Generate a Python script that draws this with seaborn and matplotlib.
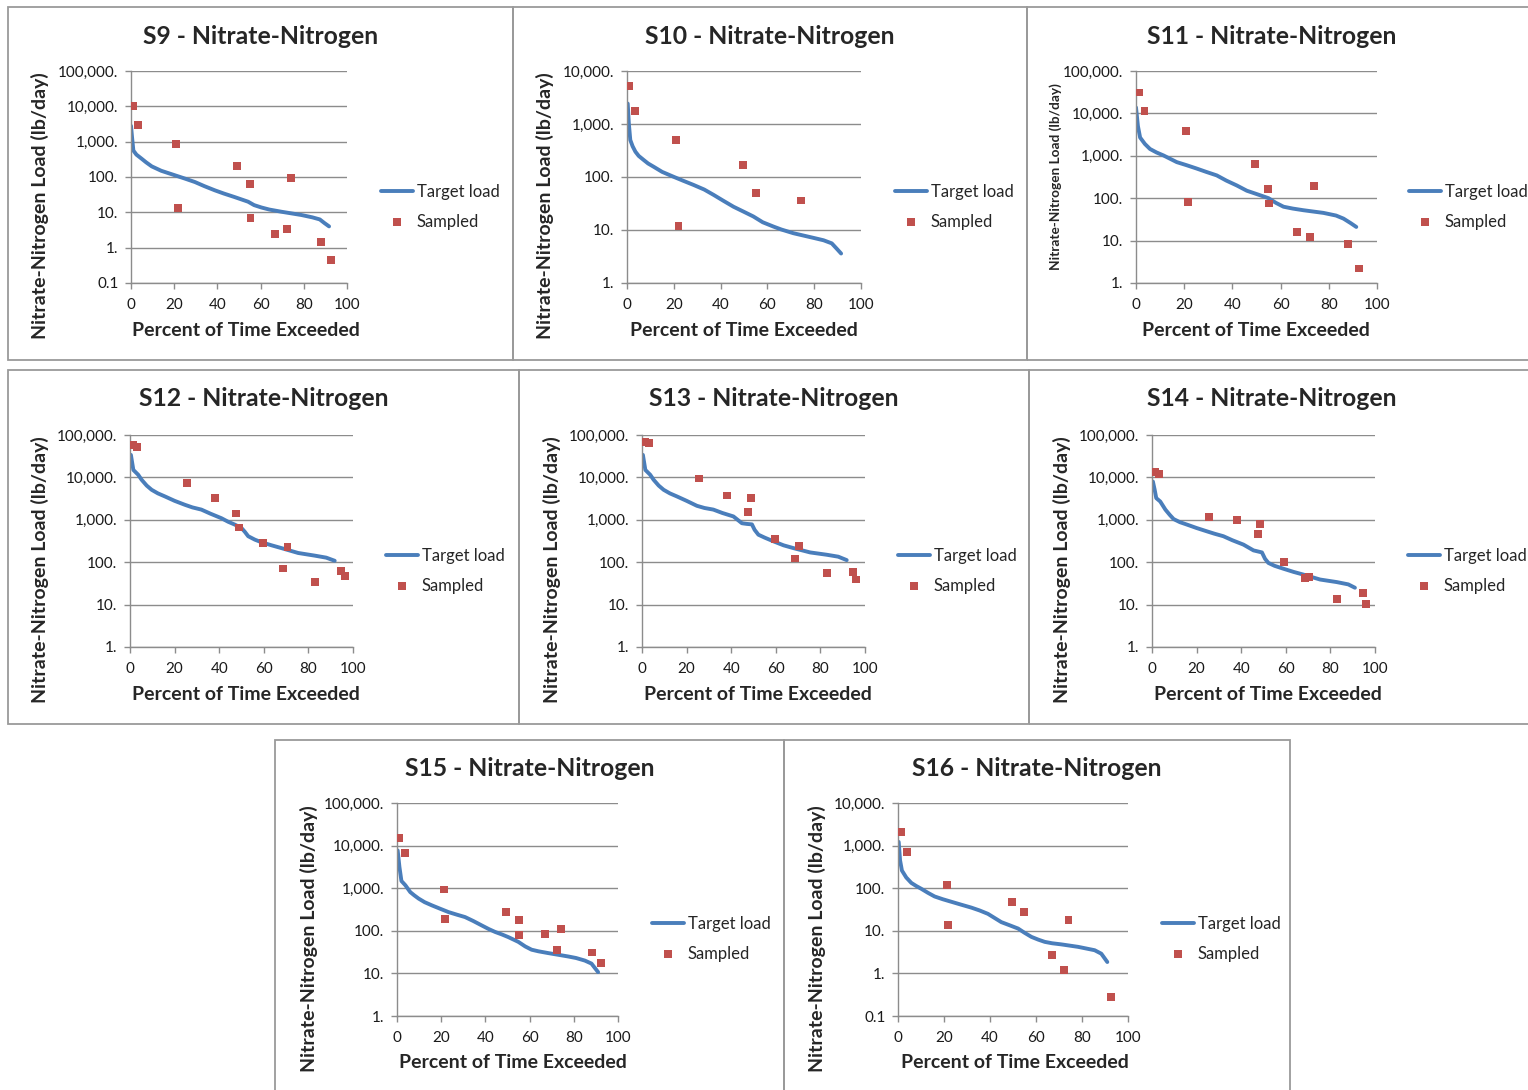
# Load duration curves - Nitrate-Nitrogen, sites S9 to S16
import matplotlib
matplotlib.use("Agg")
import matplotlib.pyplot as plt
import seaborn as sns
from matplotlib.ticker import FixedLocator, FuncFormatter, NullLocator
from matplotlib.patches import Rectangle

sns.set_style("white")
plt.rcParams['font.family'] = ['Lato', 'DejaVu Sans']

BLUE = "#4A7EBB"
RED = "#C0504D"
GRID = "#8C8C8C"

# ---- data ----
sites = ["S9", "S10", "S11", "S12", "S13", "S14", "S15", "S16"]

s9_target_x = [0, 0.5, 1.1, 2.5, 4.9, 7, 9.6, 14, 20.3, 25, 29.6, 34, 38.8, 43, 48, 54.2, 57, 60.4, 64, 69.6, 78.9, 84, 87.4, 89.5, 91.7]
s9_target_y = [2800, 1300, 560, 430, 330, 260, 200, 150, 112, 90, 72, 55, 42, 34, 27, 20, 16, 13.7, 12, 10.4, 8.4, 7.2, 6.3, 5.0, 4.0]
s9_sampled_x = [1.1, 3.4, 21.0, 21.6, 49.2, 54.9, 55.3, 66.7, 72.3, 74.1, 88.0, 92.4]
s9_sampled_y = [10400, 3030, 870, 13, 200, 65, 7.1, 2.4, 3.3, 96, 1.45, 0.45]

s10_target_x = [0.3, 0.8, 1.4, 2.4, 3.6, 5, 7.1, 9, 11.4, 15, 19.9, 24, 28.4, 33, 37, 41, 45.5, 50, 54, 58, 62.6, 66, 71.1, 79.7, 84, 87.5, 89.5, 91.5]
s10_target_y = [2430, 1000, 500, 380, 300, 250, 210, 180, 156, 125, 101, 85, 71, 58, 46, 36, 27.5, 22, 18, 14, 11.6, 10.2, 8.7, 7.1, 6.4, 5.6, 4.5, 3.6]
s10_sampled_x = [1.0, 3.6, 20.9, 22.0, 49.4, 55.0, 74.4]
s10_sampled_y = [5300, 1770, 497, 12, 166, 49, 36]

s11_target_x = [0, 0.8, 1.7, 3.7, 5.8, 8.5, 11.4, 16.9, 21, 25.2, 29, 33.5, 37.5, 41.8, 46, 50.1, 55.0, 58, 61.2, 65, 69.5, 77.8, 83, 86.1, 89, 91.4]
s11_target_y = [13800, 5000, 2700, 1900, 1450, 1200, 1020, 710, 600, 500, 420, 345, 260, 200, 150, 125, 100, 78, 63, 57, 52, 45, 39, 33, 26, 21]
s11_sampled_x = [1.1, 3.5, 20.6, 21.7, 49.2, 54.8, 55.1, 66.8, 72.3, 74.0, 88.0, 92.5]
s11_sampled_y = [31000, 11300, 3770, 82, 640, 168, 75, 16, 12.2, 190, 8.5, 2.2]

s12_target_x = [0.4, 1.5, 3.7, 5.2, 7.5, 9.7, 12.5, 15.7, 20, 24.6, 28, 32, 36, 41, 44, 47, 50, 51.5, 53, 56, 59, 63.5, 67.9, 75.4, 82.8, 88, 91.8]
s12_target_y = [34000, 15000, 11500, 8800, 6400, 5100, 4200, 3550, 2800, 2260, 1960, 1740, 1400, 1090, 900, 770, 640, 520, 410, 340, 295, 250, 215, 165, 143, 128, 108]
s12_sampled_x = [1.5, 3.1, 25.5, 38.1, 47.5, 48.7, 59.7, 68.7, 70.6, 82.8, 94.8, 96.3]
s12_sampled_y = [58000, 53000, 7300, 3200, 1410, 660, 290, 71, 224, 34, 63, 48]

s13_target_x = [0.4, 1.5, 3.7, 5.2, 7.5, 9.7, 12.5, 15.7, 20, 24.6, 28, 32, 36, 41, 44.8, 47, 49.3, 50.5, 52.2, 55, 59, 63.5, 67.9, 75.4, 82.8, 88, 91.8]
s13_target_y = [34000, 15000, 11500, 8800, 6400, 5100, 4200, 3550, 2800, 2140, 1900, 1740, 1450, 1200, 830, 800, 780, 580, 445, 380, 310, 250, 215, 170, 150, 135, 112]
s13_sampled_x = [1.2, 3.0, 25.5, 38.1, 47.5, 48.7, 59.7, 68.7, 70.3, 82.8, 94.5, 96.0]
s13_sampled_y = [67000, 65000, 9400, 3750, 1520, 3300, 360, 122, 237, 56, 58, 39]

s14_target_x = [0.4, 1.2, 1.9, 3.7, 6, 8, 9.7, 12.5, 15.7, 20, 24.6, 28, 32, 36, 41, 45.5, 49.3, 50.7, 52.2, 55, 59, 63.5, 67.9, 75.4, 82.8, 88, 91]
s14_target_y = [8000, 5100, 3250, 2700, 1740, 1300, 1040, 880, 770, 640, 535, 470, 410, 330, 260, 190, 170, 120, 96, 82, 70, 59, 51, 39, 34, 30, 25]
s14_sampled_x = [1.2, 3.0, 25.5, 38.1, 47.5, 48.4, 59.3, 68.7, 70.3, 82.8, 94.5, 96.0]
s14_sampled_y = [13700, 12100, 1140, 970, 460, 790, 100, 43, 45, 13.7, 19, 10.5]

s15_target_x = [0.3, 1.1, 2.0, 3.8, 6, 7.8, 9.8, 12.5, 15.8, 19.5, 23.3, 27, 30.8, 34.5, 38.3, 41.5, 44.4, 47.5, 50.4, 54.9, 58, 60.9, 64, 68.4, 77.4, 81, 85, 88, 91]
s15_target_y = [7700, 3150, 1480, 1170, 810, 680, 570, 470, 395, 330, 275, 240, 210, 170, 134, 110, 94, 82, 71, 55, 43, 36, 33, 30, 25, 23, 20, 17, 10.7]
s15_sampled_x = [1.1, 3.8, 21.2, 21.8, 49.3, 55.2, 55.2, 66.9, 72.5, 74.1, 88.3, 92.5]
s15_sampled_y = [15000, 6700, 930, 193, 270, 180, 78, 85, 36, 112, 31, 17.5]

s16_target_x = [0.3, 0.9, 1.7, 3.6, 5.8, 8, 10.1, 13, 15.9, 19.5, 23.2, 27.5, 31.9, 35.5, 39.1, 42, 44.9, 48.5, 52.2, 55, 58, 61, 63.8, 67, 71, 78.3, 85.5, 88.4, 91]
s16_target_y = [1220, 450, 260, 178, 133, 112, 97, 78, 64, 55, 48, 41, 35, 30, 25, 20, 16, 13.5, 11.3, 9, 7.2, 6.2, 5.5, 5.1, 4.8, 4.2, 3.5, 2.9, 1.85]
s16_sampled_x = [1.2, 3.8, 21.2, 21.7, 49.4, 54.9, 66.8, 72.2, 74.1, 92.6]
s16_sampled_y = [2090, 695, 121, 13.7, 47, 27.5, 2.75, 1.2, 17.9, 0.28]

y_ranges = [(0.1, 1e5), (1, 1e4), (1, 1e5), (1, 1e5), (1, 1e5), (1, 1e5), (1, 1e5), (0.1, 1e4)]

targets = [(s9_target_x, s9_target_y), (s10_target_x, s10_target_y), (s11_target_x, s11_target_y),
           (s12_target_x, s12_target_y), (s13_target_x, s13_target_y), (s14_target_x, s14_target_y),
           (s15_target_x, s15_target_y), (s16_target_x, s16_target_y)]
samples = [(s9_sampled_x, s9_sampled_y), (s10_sampled_x, s10_sampled_y), (s11_sampled_x, s11_sampled_y),
           (s12_sampled_x, s12_sampled_y), (s13_sampled_x, s13_sampled_y), (s14_sampled_x, s14_sampled_y),
           (s15_sampled_x, s15_sampled_y), (s16_sampled_x, s16_sampled_y)]

# ---- layout in pixels (figure is 1528 x 1090) ----
W, H = 1528, 1090
# panel boxes: left, top, right, bottom
boxes = [(8, 7, 513, 360), (513, 7, 1027, 360), (1027, 7, 1530, 360),
         (8, 370, 519, 724), (519, 370, 1029, 724), (1029, 370, 1530, 724),
         (275, 740, 784, 1092), (784, 740, 1290, 1092)]
# plot areas: left, top, right, bottom
plot_areas = [(131, 71, 347, 283), (627, 71, 861, 283), (1136, 71, 1377, 283),
              (130, 435, 353, 647), (642, 435, 865, 647), (1152, 435, 1375, 647),
              (397, 803, 618, 1016), (898, 803, 1128, 1016)]
xlabel_x = [246, 744, 1256, 246, 758, 1268, 513, 1015]
ylabel_x = [40, 545, 1056, 40, 552, 1062, 309, 817]
legend_x = [381, 895, 1409, 386, 898, 1408, 652, 1162]


def fmt(v, pos):
    if v < 1:
        return "0.1"
    return f"{int(round(v)):,}."


fig = plt.figure(figsize=(W / 100, H / 100), dpi=100)

for i, site in enumerate(sites):
    bl, bt, br, bb = boxes[i]
    fig.patches.append(Rectangle((bl / W, 1 - bb / H), (br - bl) / W, (bb - bt) / H,
                                 transform=fig.transFigure, fill=False,
                                 edgecolor="#9A9A9A", lw=1.3, zorder=0))

    l, t, r, b = plot_areas[i]
    ax = fig.add_axes([l / W, 1 - b / H, (r - l) / W, (b - t) / H])

    tx, ty = targets[i]
    sx, sy = samples[i]
    sns.lineplot(x=tx, y=ty, ax=ax, color=BLUE, lw=2.8, label="Target load", sort=False)
    sns.scatterplot(x=sx, y=sy, ax=ax, color=RED, marker="s", s=32, edgecolor="none",
                    label="Sampled", zorder=5)

    ax.set_yscale("log")
    lo, hi = y_ranges[i]
    ax.set_ylim(lo, hi)
    ax.set_xlim(0, 100)
    decades = []
    v = lo
    while v <= hi * 1.001:
        decades.append(v)
        v *= 10
    ax.yaxis.set_major_locator(FixedLocator(decades))
    ax.yaxis.set_minor_locator(NullLocator())
    ax.yaxis.set_major_formatter(FuncFormatter(fmt))
    ax.set_xticks([0, 20, 40, 60, 80, 100])
    ax.grid(axis="y", color=GRID, lw=1.0)
    ax.grid(axis="x", visible=False)
    for side in ["top", "right"]:
        ax.spines[side].set_visible(False)
    for side in ["left", "bottom"]:
        ax.spines[side].set_color(GRID)
        ax.spines[side].set_linewidth(1.0)
    ax.tick_params(axis="both", which="major", length=4, width=1.0, color=GRID,
                   labelsize=11, labelcolor="#1a1a1a", pad=5, direction="out")
    ax.tick_params(axis="x", bottom=True, pad=7)
    ax.tick_params(axis="y", left=True)
    ax.set_xlabel("")
    ax.set_ylabel("")

    # title, axis titles
    fig.text((bl + br) / 2 / W if i not in (2, 5) else (1027 + 1517) / 2 / W,
             1 - (bt + 29) / H, f"{site} - Nitrate-Nitrogen",
             ha="center", va="center", fontsize=17.8, fontweight="bold")
    fig.text(xlabel_x[i] / W, 1 - (b + 47) / H, "Percent of Time Exceeded",
             ha="center", va="center", fontsize=14, fontweight="bold")
    if site == "S11":
        fig.text(ylabel_x[i] / W, 1 - 177 / H, "Nitrate-Nitrogen Load (lb/day)",
                 ha="center", va="center", rotation=90, fontsize=9.8, fontweight="bold")
    else:
        fig.text(ylabel_x[i] / W, 1 - ((t + b) / 2 + 29) / H, "Nitrate-Nitrogen Load (lb/day)",
                 ha="center", va="center", rotation=90, fontsize=14, fontweight="bold")

    leg = ax.legend(loc="center left", bbox_to_anchor=(legend_x[i] / W, 1 - (t + 136) / H),
                    bbox_transform=fig.transFigure, frameon=False, fontsize=12,
                    handlelength=1.9, handletextpad=0.25, labelspacing=0.8,
                    borderpad=0, borderaxespad=0, markerscale=1.0)

fig.savefig("out.png", dpi=100)
